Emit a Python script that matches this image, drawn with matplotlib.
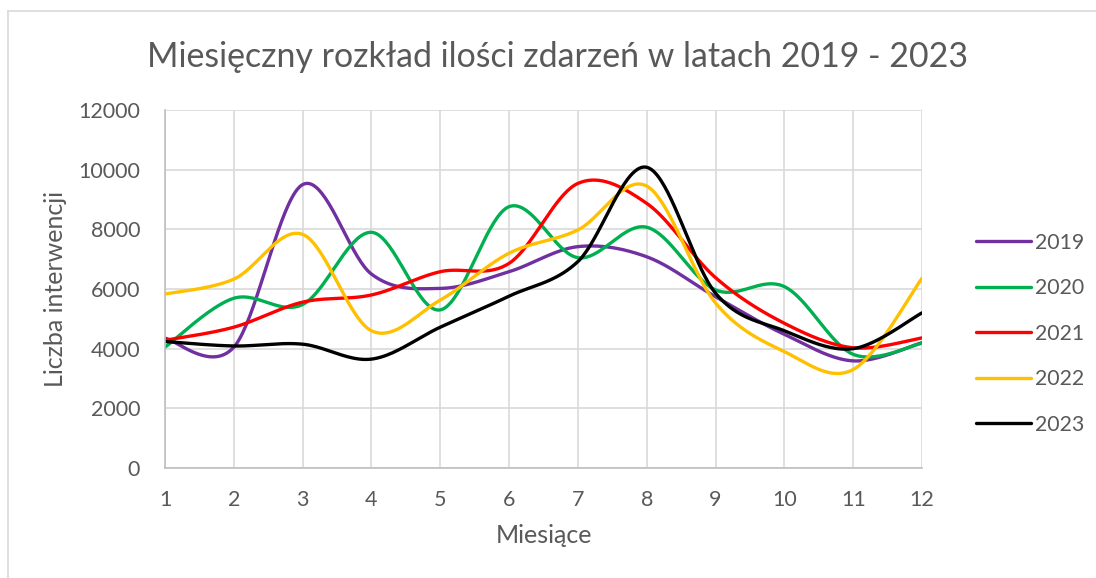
import numpy as np
import matplotlib
matplotlib.use("Agg")
import matplotlib.pyplot as plt
from matplotlib.lines import Line2D

# dane
months = list(range(1, 13))
years = ["2019", "2020", "2021", "2022", "2023"]
v2019 = [4350, 4050, 9500, 6500, 6020, 6580, 7420, 7080, 5740, 4480, 3590, 4200]
v2020 = [4050, 5690, 5480, 7900, 5300, 8760, 7050, 8070, 5970, 6080, 3810, 4180]
v2021 = [4280, 4720, 5560, 5800, 6580, 6860, 9540, 8870, 6380, 4850, 4030, 4360]
v2022 = [5830, 6330, 7830, 4600, 5630, 7200, 7980, 9450, 5530, 3900, 3300, 6360]
v2023 = [4240, 4090, 4150, 3650, 4720, 5760, 6920, 10080, 5860, 4600, 4000, 5200]
series = [v2019, v2020, v2021, v2022, v2023]
colors = ["#7030A0", "#00B050", "#FF0000", "#FFC000", "#000000"]


# wygladzanie jak w Excelu (krzywe Beziera przez punkty)
def smooth(xs, ys, n=40):
    pts = np.column_stack([xs, ys]).astype(float)
    ext = np.vstack([pts[0], pts, pts[-1]])
    out = []
    t = np.linspace(0, 1, n)[:, None]
    for i in range(len(pts) - 1):
        p0, p1, p2, p3 = ext[i], ext[i + 1], ext[i + 2], ext[i + 3]
        c1 = p1 + (p2 - p0) / 6
        c2 = p2 - (p3 - p1) / 6
        seg = (1 - t) ** 3 * p1 + 3 * (1 - t) ** 2 * t * c1 + 3 * (1 - t) * t ** 2 * c2 + t ** 3 * p2
        out.append(seg if i == 0 else seg[1:])
    return np.vstack(out)


plt.rcParams['font.family'] = ['Lato', 'DejaVu Sans']
gray = "#595959"

fig = plt.figure(figsize=(10.96, 5.78), dpi=100)
ax = fig.add_axes([165 / 1096, 1 - 468 / 578, (922 - 165) / 1096, (468 - 110) / 578])

for vals, col, lab in zip(series, colors, years):
    xy = smooth(months, vals)
    ax.plot(xy[:, 0], xy[:, 1], color=col, lw=2.4, label=lab, solid_capstyle="round")

ax.set_xlim(1, 12)
ax.set_ylim(0, 12000)
ax.set_xticks(months)
ax.set_yticks(range(0, 12001, 2000))
ax.grid(True, color="#d9d9d9", lw=1.2)
ax.set_axisbelow(True)
for s in ["top", "right"]:
    ax.spines[s].set_visible(False)
for s in ["left", "bottom"]:
    ax.spines[s].set_color("#bfbfbf")
    ax.spines[s].set_linewidth(1.2)
ax.tick_params(length=0, colors=gray, labelsize=15.5)
ax.tick_params(axis="x", pad=16)
ax.tick_params(axis="y", pad=18)

ax.set_xlabel("Miesiące", color=gray, fontsize=18, labelpad=10)
ax.set_ylabel("Liczba interwencji", color=gray, fontsize=18, labelpad=8)
fig.text(0.509, 0.901, "Miesięczny rozkład ilości zdarzeń w latach 2019 - 2023",
         ha="center", va="center", color=gray, fontsize=24.4)

leg = ax.legend(loc="center left", bbox_to_anchor=(1.046, 0.375), frameon=False,
                fontsize=15.3, handlelength=2.6, handletextpad=0.2, labelspacing=1.2)
for t in leg.get_texts():
    t.set_color(gray)

# ramka wykresu
fig.add_artist(Line2D([8 / 1096, 8 / 1096], [0, 1 - 11 / 578], color="#d9d9d9", lw=1.2))
fig.add_artist(Line2D([8 / 1096, 1], [1 - 11 / 578, 1 - 11 / 578], color="#d9d9d9", lw=1.2))

fig.savefig("out.png", dpi=100)
